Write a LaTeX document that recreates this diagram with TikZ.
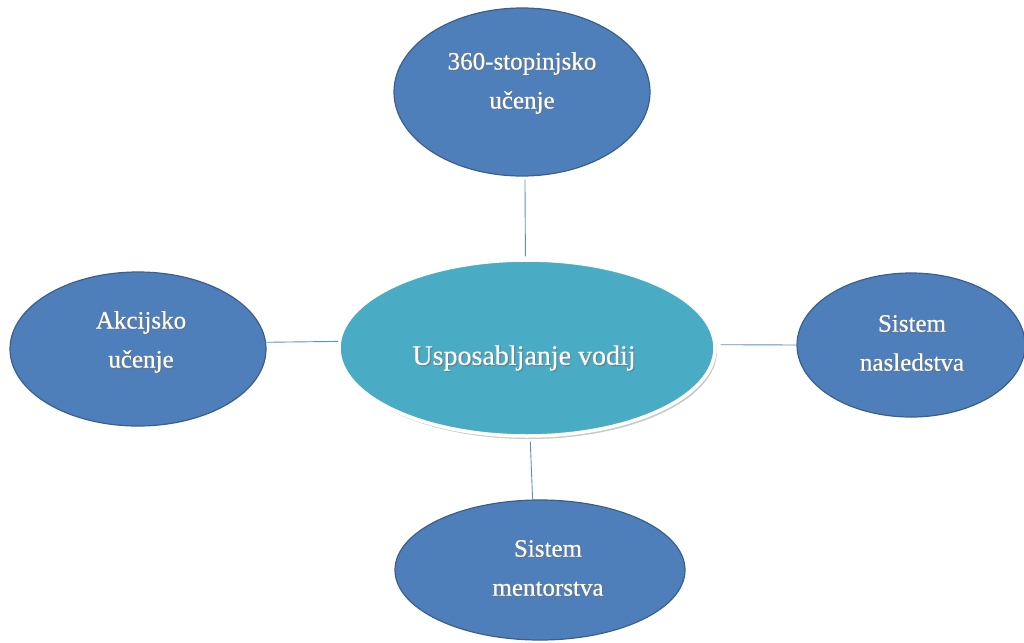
\documentclass[tikz,border=0pt]{standalone}
\usepackage{fontspec}
\setmainfont{Liberation Serif}
\newfontface\lblface{Liberation Serif}[FakeBold=0.4]
\usetikzlibrary{shapes.geometric,shadows}
\definecolor{bubblefill}{HTML}{4F7FBB}
\definecolor{bubbleedge}{HTML}{3A5F8E}
\definecolor{hubfill}{HTML}{4AABC5}
\definecolor{linkblue}{HTML}{5B8FD0}
\tikzset{
  bubble/.style={ellipse, draw=bubbleedge, line width=1.2pt, fill=bubblefill, inner sep=0pt},
  hub/.style={ellipse, draw=white, line width=3.5pt, fill=hubfill, inner sep=0pt,
    drop shadow={shadow xshift=2pt, shadow yshift=-3pt, opacity=0.35, fill=black!60}},
  link/.style={draw=linkblue, line width=0.9pt},
  lbl/.style={text=white, align=center, font=\lblface\fontsize{25}{39}\selectfont},
  lblshadow/.style={text=black!55, opacity=0.6, align=center, font=\lblface\fontsize{25}{39}\selectfont, xshift=1.3pt, yshift=-1.3pt}
}
\begin{document}
\begin{tikzpicture}[x=1pt,y=-1pt]
\useasboundingbox (0,0) rectangle (1024,642);
% outer bubbles
\node[bubble, minimum width=256pt, minimum height=168pt] (top) at (522,92) {};
\node[bubble, minimum width=256pt, minimum height=154pt] (left) at (138,349) {};
\node[bubble, minimum width=228pt, minimum height=144pt] (right) at (911,345) {};
\node[bubble, minimum width=290pt, minimum height=140pt] (bottom) at (540,570) {};
% central hub
\node[hub, minimum width=376pt, minimum height=176pt] (hub) at (527,348) {};
% connectors
\draw[link, shorten <=3pt, shorten >=2pt] (top.-88) -- (hub.91);
\draw[link, shorten <=-1pt] (left.3) -- (hub.178);
\draw[link, shorten <=4pt] (hub.1) -- (right.west);
\draw[link, shorten <=4pt] (hub.-88) -- (bottom.96);
% labels, each with a soft shadow behind the white text
\node[lblshadow] (tts) at (522,83) {360-stopinjsko\\učenje};
\node[lbl] (tt) at (522,83) {360-stopinjsko\\učenje};
\node[lblshadow] (lts) at (141,342) {Akcijsko\\učenje};
\node[lbl] (lt) at (141,342) {Akcijsko\\učenje};
\node[lblshadow] (rts) at (912,343) {Sistem\\nasledstva};
\node[lbl] (rt) at (912,343) {Sistem\\nasledstva};
\node[lblshadow] (bts) at (548,568) {Sistem\\mentorstva};
\node[lbl] (bt) at (548,568) {Sistem\\mentorstva};
\node[lblshadow, font=\lblface\fontsize{28}{34}\selectfont] (hubts) at (524,358) {Usposabljanje vodij};
\node[lbl, font=\lblface\fontsize{28}{34}\selectfont] (hubt) at (524,358) {Usposabljanje vodij};
\end{tikzpicture}
\end{document}
